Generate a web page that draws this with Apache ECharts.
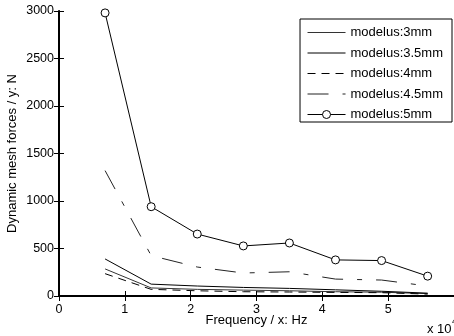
<!DOCTYPE html>
<html><head><meta charset="utf-8">
<script src="https://cdn.jsdelivr.net/npm/echarts@6/dist/echarts.min.js"></script>
<style>html,body{margin:0;padding:0;background:#fff}#c{width:454px;height:336px}</style>
</head><body><div id="c"></div>
<script>
const freq = [0.7, 1.4, 2.1, 2.8, 3.5, 4.2, 4.9, 5.6];
const m3 = [285, 85, 70, 62, 55, 45, 40, 25];
const m35 = [390, 125, 105, 90, 80, 65, 50, 30];
const m4 = [235, 70, 55, 45, 42, 38, 35, 20];
const m45 = [1320, 425, 305, 242, 255, 178, 168, 105];
const m5 = [2980, 940, 652, 527, 558, 380, 373, 209];
const names = ['modelus:3mm','modelus:3.5mm','modelus:4mm','modelus:4.5mm','modelus:5mm'];
const xTicks = [0,1,2,3,4,5];
const yTicks = [0,500,1000,1500,2000,2500,3000];

const pair = arr => freq.map((f,i)=>[f,arr[i]]);
const font = 'Arial, "Liberation Sans", sans-serif';
const chart = echarts.init(document.getElementById('c'), null, {renderer:'canvas'});
const circleStyle = {color:'#fff', borderColor:'#000', borderWidth:1};
function ser(name, data, color, type, withSym){
  return {name, type:'line', xAxisIndex:0, yAxisIndex:0, data:pair(data),
    symbol: withSym ? 'circle' : 'none', symbolSize:8, showSymbol: !!withSym,
    itemStyle: withSym ? circleStyle : {color},
    lineStyle:{color, width:1, type}, animation:false, z: withSym?5:3};
}
const hidden = {opacity:0};
const baseAxis = {
  axisLine:{show:true, lineStyle:{color:'#000', width:2}},
  axisTick:{show:true, inside:true, length:5, lineStyle:{color:'#000', width:1}},
  splitLine:{show:false}
};
chart.setOption({
  animation:false,
  grid:{left:59, right:0, top:11, bottom:40, containLabel:false, outerBoundsMode:'none'},
  legend:{
    right:2, top:19, orient:'vertical', itemWidth:38, itemHeight:10, itemGap:7.5,
    borderColor:'#000', borderWidth:1, padding:[7,9,1,7], backgroundColor:'#fff',
    lineStyle:{width:1},
    textStyle:{fontFamily:font, fontSize:13, color:'#000', lineHeight:10},
    data:[
      {name:names[0], itemStyle:hidden},
      {name:names[1], itemStyle:hidden},
      {name:names[2], itemStyle:hidden},
      {name:names[3], itemStyle:hidden},
      {name:names[4], itemStyle:circleStyle}
    ]
  },
  xAxis:[
    Object.assign({}, baseAxis, {type:'value', min:0, max:6, interval:1, position:'bottom',
      name:'Frequency / x: Hz', nameLocation:'middle', nameGap:18, nameMoveOverlap:false,
      nameTextStyle:{fontFamily:font, fontSize:13, color:'#000'},
      axisLabel:{fontFamily:font, fontSize:12.5, color:'#000', margin:7, showMaxLabel:false,
        formatter:v=> xTicks.includes(v)? String(v):''}}),
    Object.assign({}, baseAxis, {type:'value', min:0, max:6, interval:1, position:'top',
      axisLine:{show:true, lineStyle:{color:'#000', width:1}},
      axisLabel:{show:false}})
  ],
  yAxis:[
    Object.assign({}, baseAxis, {type:'value', min:0, max:3000, interval:500, position:'left',
      name:'Dynamic mesh forces / y: N', nameLocation:'middle', nameGap:40, nameMoveOverlap:false,
      nameTextStyle:{fontFamily:font, fontSize:13, color:'#000'},
      axisLabel:{fontFamily:font, fontSize:12.5, color:'#000', margin:5,
        formatter:v=> yTicks.includes(v)? String(v):''}}),
    Object.assign({}, baseAxis, {type:'value', min:0, max:3000, interval:500, position:'right',
      axisLine:{show:true, lineStyle:{color:'#000', width:1}},
      axisLabel:{show:false}})
  ],
  graphic:[
    {type:'text', left:427, top:323, style:{text:'x 10', font:'13px '+font, fill:'#000'}},
    {type:'text', left:452, top:317, style:{text:'4', font:'9px '+font, fill:'#000'}}
  ],
  series:[
    ser(names[0], m3, '#333', 'solid'),
    ser(names[1], m35, '#000', 'solid'),
    ser(names[2], m4, '#000', [8,6]),
    ser(names[3], m45, '#222', [21,14,5,14]),
    ser(names[4], m5, '#000', 'solid', true)
  ]
});
</script></body></html>
